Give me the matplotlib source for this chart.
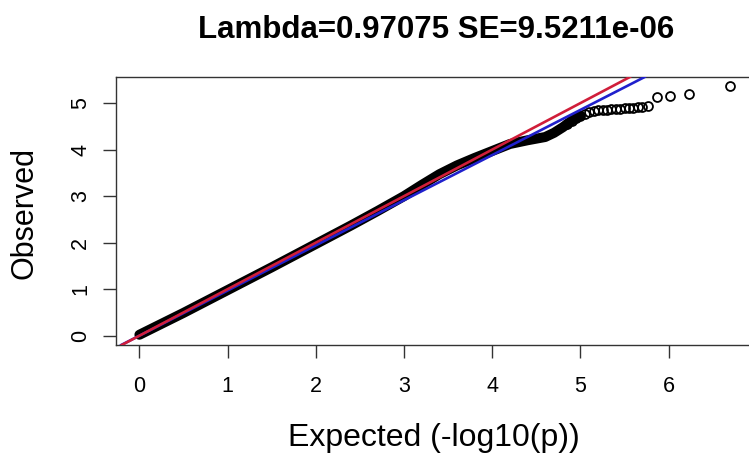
#!/usr/bin/env python
#importing libraries
import matplotlib
matplotlib.use("Agg")
import matplotlib.pyplot as plt

plt.rcParams['font.family'] = ['Liberation Sans', 'DejaVu Sans']

#QQ data
#dense part of the cloud (drawn as a thick band)
band_exp = [0.0, 0.5, 1.0, 1.5, 2.0, 2.4, 2.7, 3.0, 3.2, 3.4, 3.6, 3.8,
            4.0, 4.2, 4.4, 4.6, 4.7, 4.8, 4.9, 5.0]
band_obs = [0.02, 0.49, 0.98, 1.47, 1.97, 2.37, 2.68, 3.00, 3.24, 3.47, 3.66, 3.82,
            3.97, 4.12, 4.20, 4.27, 4.36, 4.48, 4.62, 4.73]
#sparse tail (single points)
tail_exp = [4.85, 4.9, 4.95, 5.0, 5.05, 5.1, 5.15, 5.2, 5.25, 5.3, 5.35, 5.4,
            5.45, 5.5, 5.55, 5.6, 5.65, 5.7, 5.76, 5.87, 6.01, 6.23, 6.70]
tail_obs = [4.55, 4.62, 4.68, 4.73, 4.77, 4.80, 4.82, 4.84, 4.85, 4.86, 4.87, 4.88,
            4.88, 4.89, 4.90, 4.90, 4.91, 4.92, 4.94, 5.12, 5.15, 5.20, 5.36]

lam = 0.97075
se = 9.5211e-06
xticks = [0, 1, 2, 3, 4, 5, 6]
yticks = [0, 1, 2, 3, 4, 5]

fig = plt.figure(figsize=(7.49, 4.54), dpi=100)
ax = fig.add_axes([0.1549, 0.2401, 0.8545, 0.5903])

ax.plot(band_exp, band_obs, color='black', lw=7.2, solid_capstyle='round', zorder=2)
ax.plot(tail_exp, tail_obs, ls='none', marker='o', ms=6.4, mfc='none',
        mec='black', mew=1.3, zorder=3)

#expected line with lambda, and y=x
ax.axline((0, 0), slope=lam, color='#2020cc', lw=1.9, zorder=4)
ax.axline((0, 0), slope=1, color='#d01e3a', lw=1.9, zorder=5)

ax.set_xlim(-0.265, 6.99)
ax.set_ylim(-0.2, 5.56)
ax.set_xticks(xticks)
ax.set_yticks(yticks)
ax.tick_params(axis='both', length=9.5, width=1.0, color='#333333', labelsize=15.5)
ax.tick_params(axis='x', pad=13)
ax.tick_params(axis='y', pad=8.5, labelrotation=90)
for lab in ax.get_yticklabels():
    lab.set_va('center')
for s in ['left', 'top', 'bottom']:
    ax.spines[s].set_color('#333333')
    ax.spines[s].set_linewidth(1.0)
ax.spines['right'].set_visible(False)

fig.text(436/749, 1 - 38/454, 'Lambda=%.5f SE=%.4e' % (lam, se), fontsize=22.5,
         fontweight='bold', ha='center', va='baseline')
fig.text(434/749, 1 - 446/454, 'Expected (-log10(p))', fontsize=23,
         ha='center', va='baseline')
fig.text(33/749, 1 - 213/454, 'Observed', fontsize=22, rotation=90,
         rotation_mode='anchor', ha='center', va='baseline')

fig.savefig('out.png', dpi=100)
